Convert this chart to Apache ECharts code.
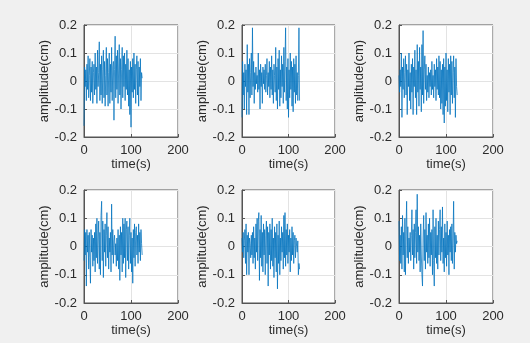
<!DOCTYPE html>
<html><head><meta charset="utf-8">
<script src="https://cdn.jsdelivr.net/npm/echarts@6/dist/echarts.min.js"></script>
<style>html,body{margin:0;padding:0;background:#f0f0f0}#c{width:530px;height:343px}</style>
</head><body><div id="c"></div>
<script>
// sampling step of the records (s)
const timeStep = 1.25;
const xTicks = [0, 100, 200];
const yTicks = [-0.2, -0.1, 0, 0.1, 0.2];
const xLabel = 'time(s)';
const yLabel = 'amplitude(cm)';

const record1 = [
 -0.16,0.05,-0.02,0.04,-0.07,0.06,-0.03,0.09,-0.06,0.02,
 0.08,-0.07,0.05,-0.04,0.07,-0.08,0.03,0.06,-0.05,0.10,
 -0.03,0.05,-0.08,0.11,-0.02,0.03,0.14,-0.07,0.06,-0.05,
 0.09,-0.08,0.04,0.11,-0.06,0.07,-0.09,0.02,0.12,-0.05,
 0.08,-0.09,0.03,0.10,-0.08,0.06,-0.04,0.12,-0.07,0.05,
 0.07,-0.14,0.04,0.16,-0.06,0.09,-0.03,0.11,-0.08,0.05,
 0.13,-0.05,0.08,-0.10,0.04,0.12,-0.06,0.09,-0.02,0.10,
 -0.07,0.06,-0.03,0.11,-0.05,0.08,-0.09,0.04,-0.12,0.07,
 -0.165,0.05,-0.04,0.08,-0.06,0.10,-0.03,0.06,-0.08,0.04,
 0.09,-0.05,0.07,-0.09,0.05,-0.02,0.08,-0.07,0.03,0.01];
const record2 = [
 -0.13,0.07,-0.05,0.03,-0.10,0.06,-0.02,0.04,-0.12,0.13,
 -0.04,0.06,-0.12,0.08,-0.06,0.03,0.10,-0.05,0.19,-0.02,
 0.07,-0.08,0.03,-0.03,0.05,-0.01,0.02,-0.04,0.10,-0.03,
 0.04,-0.10,0.06,-0.02,0.03,-0.08,0.05,-0.01,0.04,-0.03,
 0.06,-0.04,0.02,0.08,-0.05,0.03,-0.02,0.07,-0.06,0.05,
 -0.03,0.09,-0.05,0.04,-0.08,0.06,0.02,-0.04,0.12,-0.07,
 0.05,-0.10,0.08,-0.03,0.11,-0.09,0.04,-0.06,0.09,-0.02,
 0.06,-0.08,0.12,-0.04,0.07,0.19,-0.07,0.05,-0.10,0.08,
 -0.13,0.04,-0.06,0.10,-0.03,0.07,-0.09,0.05,-0.11,0.08,
 -0.04,0.06,-0.08,0.09,-0.05,0.03,-0.07,0.02,0.19,-0.07];
const record3 = [
 0.02,-0.04,0.04,-0.02,0.10,-0.13,0.05,-0.03,0.08,-0.06,
 0.03,0.09,-0.05,0.06,-0.12,0.04,-0.02,0.10,-0.07,0.03,
 -0.10,0.06,-0.04,0.08,-0.12,0.05,-0.02,0.11,-0.06,0.04,
 -0.12,0.13,-0.04,0.07,-0.09,0.12,-0.03,0.05,-0.11,0.13,
 -0.05,0.18,-0.08,0.04,0.09,-0.03,0.06,-0.07,0.02,-0.04,
 0.05,-0.06,0.03,-0.02,0.04,-0.05,0.07,-0.03,0.02,-0.06,
 0.06,-0.02,0.04,-0.07,0.08,-0.03,0.05,-0.05,0.09,-0.06,
 0.07,-0.10,0.04,-0.08,0.06,-0.12,0.08,-0.15,0.05,-0.09,
 0.10,-0.07,0.04,-0.11,0.08,-0.04,0.06,-0.12,0.09,-0.05,
 0.07,-0.08,0.03,0.09,-0.06,0.05,-0.13,0.08,-0.02,-0.05];
const record4 = [
 -0.05,0.06,-0.03,0.05,-0.14,0.06,-0.02,0.04,-0.08,0.05,
 -0.04,-0.13,0.06,-0.02,0.04,-0.07,0.03,-0.05,0.05,-0.09,
 0.08,-0.04,0.10,-0.06,0.03,0.09,-0.08,0.05,-0.10,0.11,
 0.16,-0.05,0.09,-0.11,0.06,-0.02,0.08,-0.07,0.04,0.12,
 -0.04,0.07,-0.08,0.03,-0.02,0.05,-0.09,0.15,-0.03,0.06,
 -0.06,0.02,0.04,-0.03,0.01,-0.07,0.03,-0.05,0.06,-0.08,
 0.04,-0.12,0.07,-0.03,0.05,-0.09,0.10,-0.06,0.08,-0.04,
 0.10,-0.11,0.06,0.09,-0.05,0.07,-0.08,0.04,0.10,-0.06,
 0.05,-0.09,0.03,-0.13,0.06,-0.04,0.08,-0.07,0.05,0.07,
 -0.03,0.04,-0.06,0.08,-0.02,0.05,-0.05,0.06,0.01,-0.03];
const record5 = [
 0.03,-0.02,0.05,-0.04,0.02,0.06,-0.06,0.08,-0.10,0.04,
 -0.02,0.05,-0.10,0.03,0.01,-0.04,0.04,-0.03,0.05,-0.06,
 0.07,-0.04,0.03,-0.08,0.08,-0.02,0.10,-0.05,0.09,0.12,
 -0.12,0.06,-0.04,0.11,-0.07,0.05,-0.09,0.08,-0.03,0.06,
 -0.10,0.04,0.09,-0.06,0.07,-0.14,0.05,-0.03,0.08,-0.08,
 0.06,-0.05,0.10,-0.07,0.03,-0.11,0.07,-0.04,0.05,-0.09,
 0.08,-0.15,0.04,-0.06,0.09,-0.10,0.03,-0.05,0.07,-0.02,
 0.05,-0.08,0.11,-0.04,0.12,-0.07,0.06,-0.03,0.08,-0.06,
 0.04,-0.02,0.06,-0.09,0.03,-0.05,0.07,-0.03,0.05,-0.06,
 0.02,0.04,-0.04,0.03,0.00,-0.02,0.02,-0.10,-0.06,-0.08];
const record6 = [
 0.09,-0.05,0.04,-0.06,0.07,-0.08,0.11,-0.03,0.05,-0.09,
 0.10,-0.10,0.06,0.16,-0.04,0.07,-0.06,0.03,-0.02,0.05,
 -0.05,0.04,0.13,-0.03,0.06,-0.08,0.08,-0.04,0.05,0.13,
 -0.06,0.185,-0.02,0.07,-0.05,0.04,-0.09,0.08,-0.03,-0.10,
 -0.14,0.03,0.11,-0.05,0.06,-0.08,0.12,-0.02,0.04,-0.06,
 0.08,-0.04,0.10,-0.07,0.05,-0.03,0.06,-0.10,0.13,-0.05,
 -0.14,0.07,-0.04,0.10,-0.06,0.04,-0.08,0.09,-0.03,0.06,
 0.13,-0.05,0.07,-0.02,0.14,-0.06,0.03,-0.09,0.08,-0.04,
 0.05,-0.07,0.09,-0.03,0.04,-0.10,0.06,-0.02,0.07,-0.05,
 0.08,-0.06,0.03,0.16,-0.08,0.05,-0.02,0.04,0.01,0.02];

const records = [record1, record2, record3, record4, record5, record6];

const lefts = [84, 242, 399];
const widths = [94, 93, 94];
const tops = [25, 190];
const heights = [112, 113];
const textColor = '#2b2b2b';
const font = 'Liberation Sans, Arial, sans-serif';

const grids = [], xAxes = [], yAxes = [], series = [];
records.forEach((rec, k) => {
  const r = Math.floor(k / 3), c = k % 3;
  grids.push({left: lefts[c], top: tops[r], width: widths[c], height: heights[r],
    show: true, backgroundColor: '#ffffff', borderColor: '#555555', borderWidth: 1});
  xAxes.push({type: 'value', gridIndex: k, min: xTicks[0], max: xTicks[xTicks.length-1],
    interval: xTicks[1] - xTicks[0],
    name: xLabel, nameLocation: 'middle', nameGap: 21,
    nameTextStyle: {color: textColor, fontSize: 13, fontFamily: font},
    axisLine: {show: true, onZero: false, lineStyle: {color: '#555555', width: 1}},
    axisTick: {show: true, inside: true, length: 3, lineStyle: {color: '#555555'}},
    axisLabel: {color: textColor, fontSize: 13, fontFamily: font, margin: 7},
    splitLine: {show: true, lineStyle: {color: '#e3e3e3', width: 1}}});
  yAxes.push({type: 'value', gridIndex: k, min: yTicks[0], max: yTicks[yTicks.length-1],
    interval: 0.1,
    name: yLabel, nameLocation: 'middle', nameGap: 33,
    nameTextStyle: {color: textColor, fontSize: 13, fontFamily: font},
    axisLine: {show: true, onZero: false, lineStyle: {color: '#555555', width: 1}},
    axisTick: {show: true, inside: true, length: 3, lineStyle: {color: '#555555'}},
    axisLabel: {color: textColor, fontSize: 13, fontFamily: font, margin: 7,
      formatter: v => String(Math.round(v * 10) / 10)},
    splitLine: {show: true, lineStyle: {color: '#e3e3e3', width: 1}}});
  series.push({type: 'line', xAxisIndex: k, yAxisIndex: k, showSymbol: false,
    symbol: 'none', animation: false,
    lineStyle: {color: '#0072BD', width: 0.75},
    data: rec.map((v, i) => [i * timeStep, v])});
});

const chart = echarts.init(document.getElementById('c'), null, {renderer: 'canvas'});
chart.setOption({backgroundColor: '#f0f0f0', animation: false,
  grid: grids, xAxis: xAxes, yAxis: yAxes, series: series});
</script></body></html>
